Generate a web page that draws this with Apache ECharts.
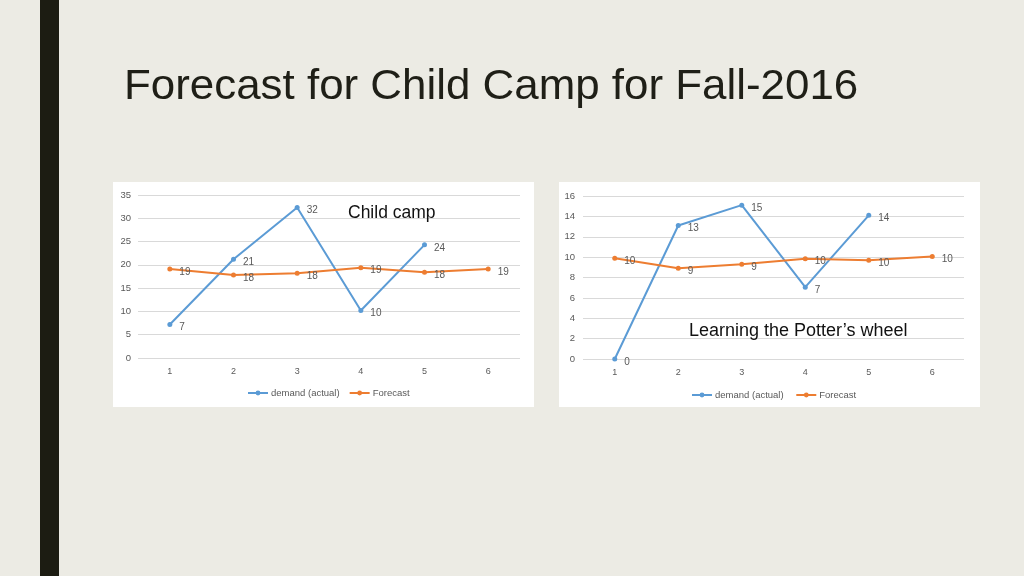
<!DOCTYPE html>
<html><head><meta charset="utf-8">
<script src="https://cdn.jsdelivr.net/npm/echarts@6/dist/echarts.min.js"></script>
<style>html,body{margin:0;padding:0;background:#ecebe4;}#c{width:1024px;height:576px;}</style>
</head><body><div id="c"></div>
<script>
const categories = ['1','2','3','4','5','6'];
const campDemand = [7.2, 21.2, 32.3, 10.2, 24.3];
const campForecast = [19.1, 17.8, 18.2, 19.4, 18.4, 19.1];
const potterDemand = [0, 13.1, 15.1, 7.05, 14.1];
const potterForecast = [9.9, 8.9, 9.3, 9.85, 9.7, 10.05];
const titleText = 'Forecast for Child Camp for Fall-2016';
const note1 = 'Child camp';
const note2 = 'Learning the Potter\u2019s wheel';

const BLUE = '#5b9bd5', ORANGE = '#ed7d31', TXT = '#595959', FONT = 'Liberation Sans';
const chart = echarts.init(document.getElementById('c'));

function xAx(i){return {type:'category', gridIndex:i, data:categories, boundaryGap:true,
  axisLine:{show:false}, axisTick:{show:false},
  axisLabel:{color:TXT, fontSize:9, fontFamily:FONT, margin:9}};}
function yAx(i,max,step,m){return {type:'value', gridIndex:i, min:0, max:max, interval:step,
  axisLine:{show:false}, axisTick:{show:false},
  splitLine:{lineStyle:{color:'#d9d9d9', width:1}},
  axisLabel:{color:TXT, fontSize:9.5, fontFamily:FONT, margin:m}};}
function ser(name,data,color,i){return {name:name, type:'line', xAxisIndex:i, yAxisIndex:i,
  data:data, symbol:'circle', symbolSize:5, lineStyle:{color:color,width:2},
  itemStyle:{color:color}, z:3,
  label:{show:true, position:'right', distance:7, offset:[0,3], color:TXT, fontSize:10, fontFamily:FONT,
    formatter:p=>Math.round(p.value)}};}
function leg(names,left,top){return {data:names, left:left, top:top, padding:0,
  itemWidth:20, itemHeight:6, itemGap:9,
  textStyle:{color:TXT,fontSize:9.5,fontFamily:FONT,padding:[0,0,0,-2]}};}

chart.setOption({
  backgroundColor:'#ecebe4',
  animation:false,
  graphic:[
    {type:'rect', shape:{x:40,y:0,width:19,height:576}, style:{fill:'#1c1c12'}, z:0},
    {type:'rect', shape:{x:113,y:182,width:421,height:225}, style:{fill:'#ffffff'}, z:-1},
    {type:'rect', shape:{x:559,y:182,width:421,height:225}, style:{fill:'#ffffff'}, z:-1},
    {type:'text', x:124, y:87, scaleX:1.045, style:{text:titleText, fill:'#1f1f17',
      font:'42px "Liberation Sans"', textVerticalAlign:'middle'}},
    {type:'text', x:348, y:213, z:10, style:{text:note1, fill:'#111',
      font:'17.5px "Liberation Sans"', textVerticalAlign:'middle'}},
    {type:'text', x:689, y:331, z:10, style:{text:note2, fill:'#111',
      font:'18px "Liberation Sans"', textVerticalAlign:'middle'}}
  ],
  grid:[
    {left:138, width:382, top:195, height:163},
    {left:583, width:381, top:196, height:163}
  ],
  xAxis:[xAx(0), xAx(1)],
  yAxis:[yAx(0,35,5,7), yAx(1,16,2,8)],
  legend:[
    leg(['demand (actual)','Forecast'], 247, 388),
    leg(['demand (actual) ','Forecast '], 691, 390)
  ],
  series:[
    ser('demand (actual)', campDemand, BLUE, 0),
    ser('Forecast', campForecast, ORANGE, 0),
    ser('demand (actual) ', potterDemand, BLUE, 1),
    ser('Forecast ', potterForecast, ORANGE, 1)
  ]
});
</script></body></html>
